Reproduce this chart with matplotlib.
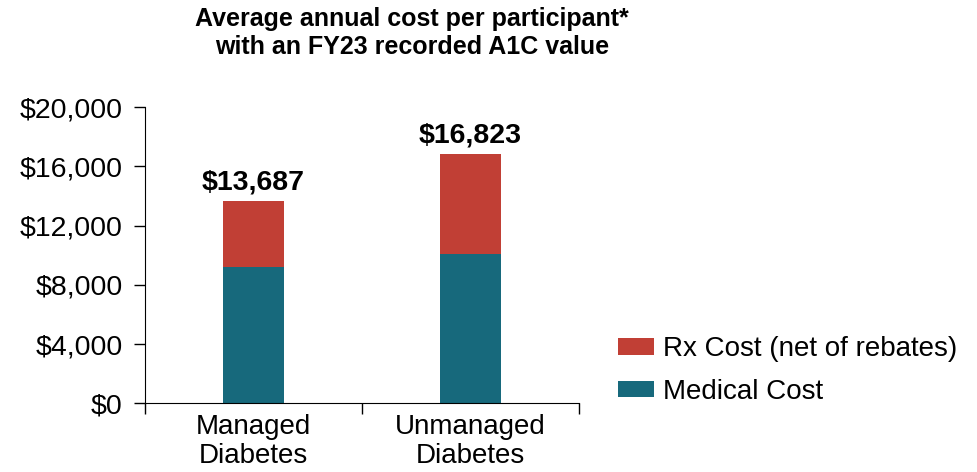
import matplotlib.pyplot as plt
import numpy as np

plt.rcParams['font.family'] = ['Liberation Sans', 'DejaVu Sans']

categories = ["Managed\nDiabetes", "Unmanaged\nDiabetes"]
medical = [9200, 10100]
rx = [4487, 6723]
totals = [13687, 16823]
total_labels = ["$13,687", "$16,823"]
yticks = [0, 4000, 8000, 12000, 16000, 20000]
ytick_labels = ["$0", "$4,000", "$8,000", "$12,000", "$16,000", "$20,000"]

c_med = "#17697C"
c_rx = "#C13F35"

fig = plt.figure(figsize=(9.77, 4.72), dpi=100)
ax = fig.add_axes([0.1484, 0.1455, 0.4442, 0.6278])

x = np.arange(len(categories))
w = 0.277
ax.bar(x, medical, w, color=c_med, label="Medical Cost")
ax.bar(x, rx, w, bottom=medical, color=c_rx, label="Rx Cost (net of rebates)")

for i in range(len(x)):
    ax.text(x[i], totals[i] + 350, total_labels[i], ha="center", va="bottom",
            fontsize=20.5, fontweight="bold")

ax.set_xlim(-0.5, 1.5)
ax.set_ylim(0, 20000)
ax.set_yticks(yticks)
ax.set_yticklabels(ytick_labels, fontsize=20.5)
ax.set_xticks(x)
ax.set_xticklabels(categories, fontsize=20, linespacing=1.15)
ax.tick_params(axis="x", length=0, pad=8)
ax.set_xticks([-0.5, 0.5, 1.5], minor=True)
ax.tick_params(axis="x", which="minor", length=8, width=1)
ax.tick_params(axis="y", length=8, width=1, pad=8)
for s in ["top", "right"]:
    ax.spines[s].set_visible(False)

h, l = ax.get_legend_handles_labels()
fig.legend(h[::-1], l[::-1], loc="center left", bbox_to_anchor=(0.607, 0.215),
           frameon=False, fontsize=20, handlelength=1.3, handleheight=0.55,
           handletextpad=0.33, labelspacing=0.6)

fig.text(0.4217, 0.93, "Average annual cost per participant*\nwith an FY23 recorded A1C value",
         ha="center", va="center", fontsize=18, fontweight="bold", linespacing=1.25)

plt.savefig("out.png", dpi=100)
